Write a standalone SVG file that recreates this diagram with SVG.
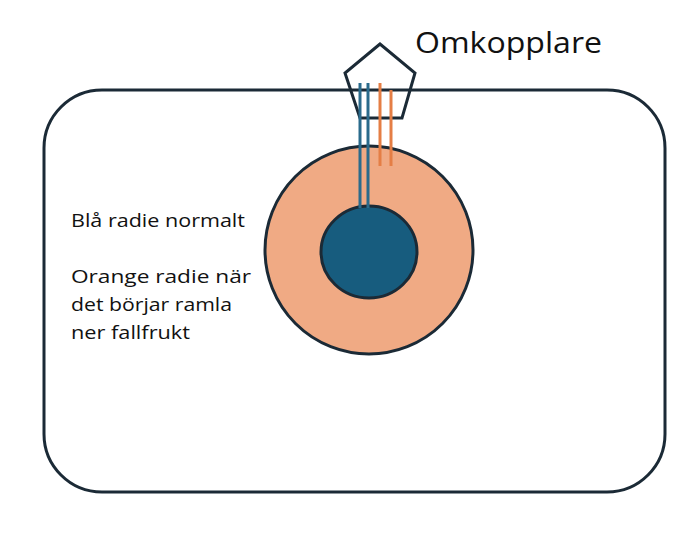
<svg xmlns="http://www.w3.org/2000/svg" width="700" height="543" viewBox="0 0 700 543">
<style>text{font-family:"Open Sans","Liberation Sans",Arial,sans-serif;fill:#111}.s{stroke:#1b2a36;stroke-width:3;fill:none}</style>
<rect width="700" height="543" fill="#fff"/>
<g id="area"><rect class="s" x="44" y="90" width="621" height="402" rx="58"/></g>
<g id="outer"><circle cx="369" cy="250" r="104" fill="#f0aa84" stroke="#1b2a36" stroke-width="3"/></g>
<g id="inner"><ellipse cx="369" cy="252" rx="48" ry="46" fill="#175c7e" stroke="#1b2a36" stroke-width="3"/></g>
<g id="switch"><polygon class="s" points="380,44 345,73 360,118 402,118 415,73"/>
<text x="415" y="53" font-size="30" textLength="187" lengthAdjust="spacingAndGlyphs">Omkopplare</text></g>
<g id="connectors" stroke-width="3">
<line x1="360" y1="83" x2="360" y2="208" stroke="#2a6b8c"/>
<line x1="368" y1="83" x2="368" y2="208" stroke="#2a6b8c"/>
<line x1="380" y1="83" x2="380" y2="166" stroke="#e57e45"/>
<line x1="391" y1="90" x2="391" y2="166" stroke="#e57e45"/>
</g>
<g id="labels" font-size="19">
<text x="71" y="227" textLength="174" lengthAdjust="spacingAndGlyphs">Blå radie normalt</text>
<text x="71" y="283" textLength="180" lengthAdjust="spacingAndGlyphs">Orange radie när</text>
<text x="71" y="311" textLength="161" lengthAdjust="spacingAndGlyphs">det börjar ramla</text>
<text x="71" y="339" textLength="119" lengthAdjust="spacingAndGlyphs">ner fallfrukt</text>
</g>
</svg>
